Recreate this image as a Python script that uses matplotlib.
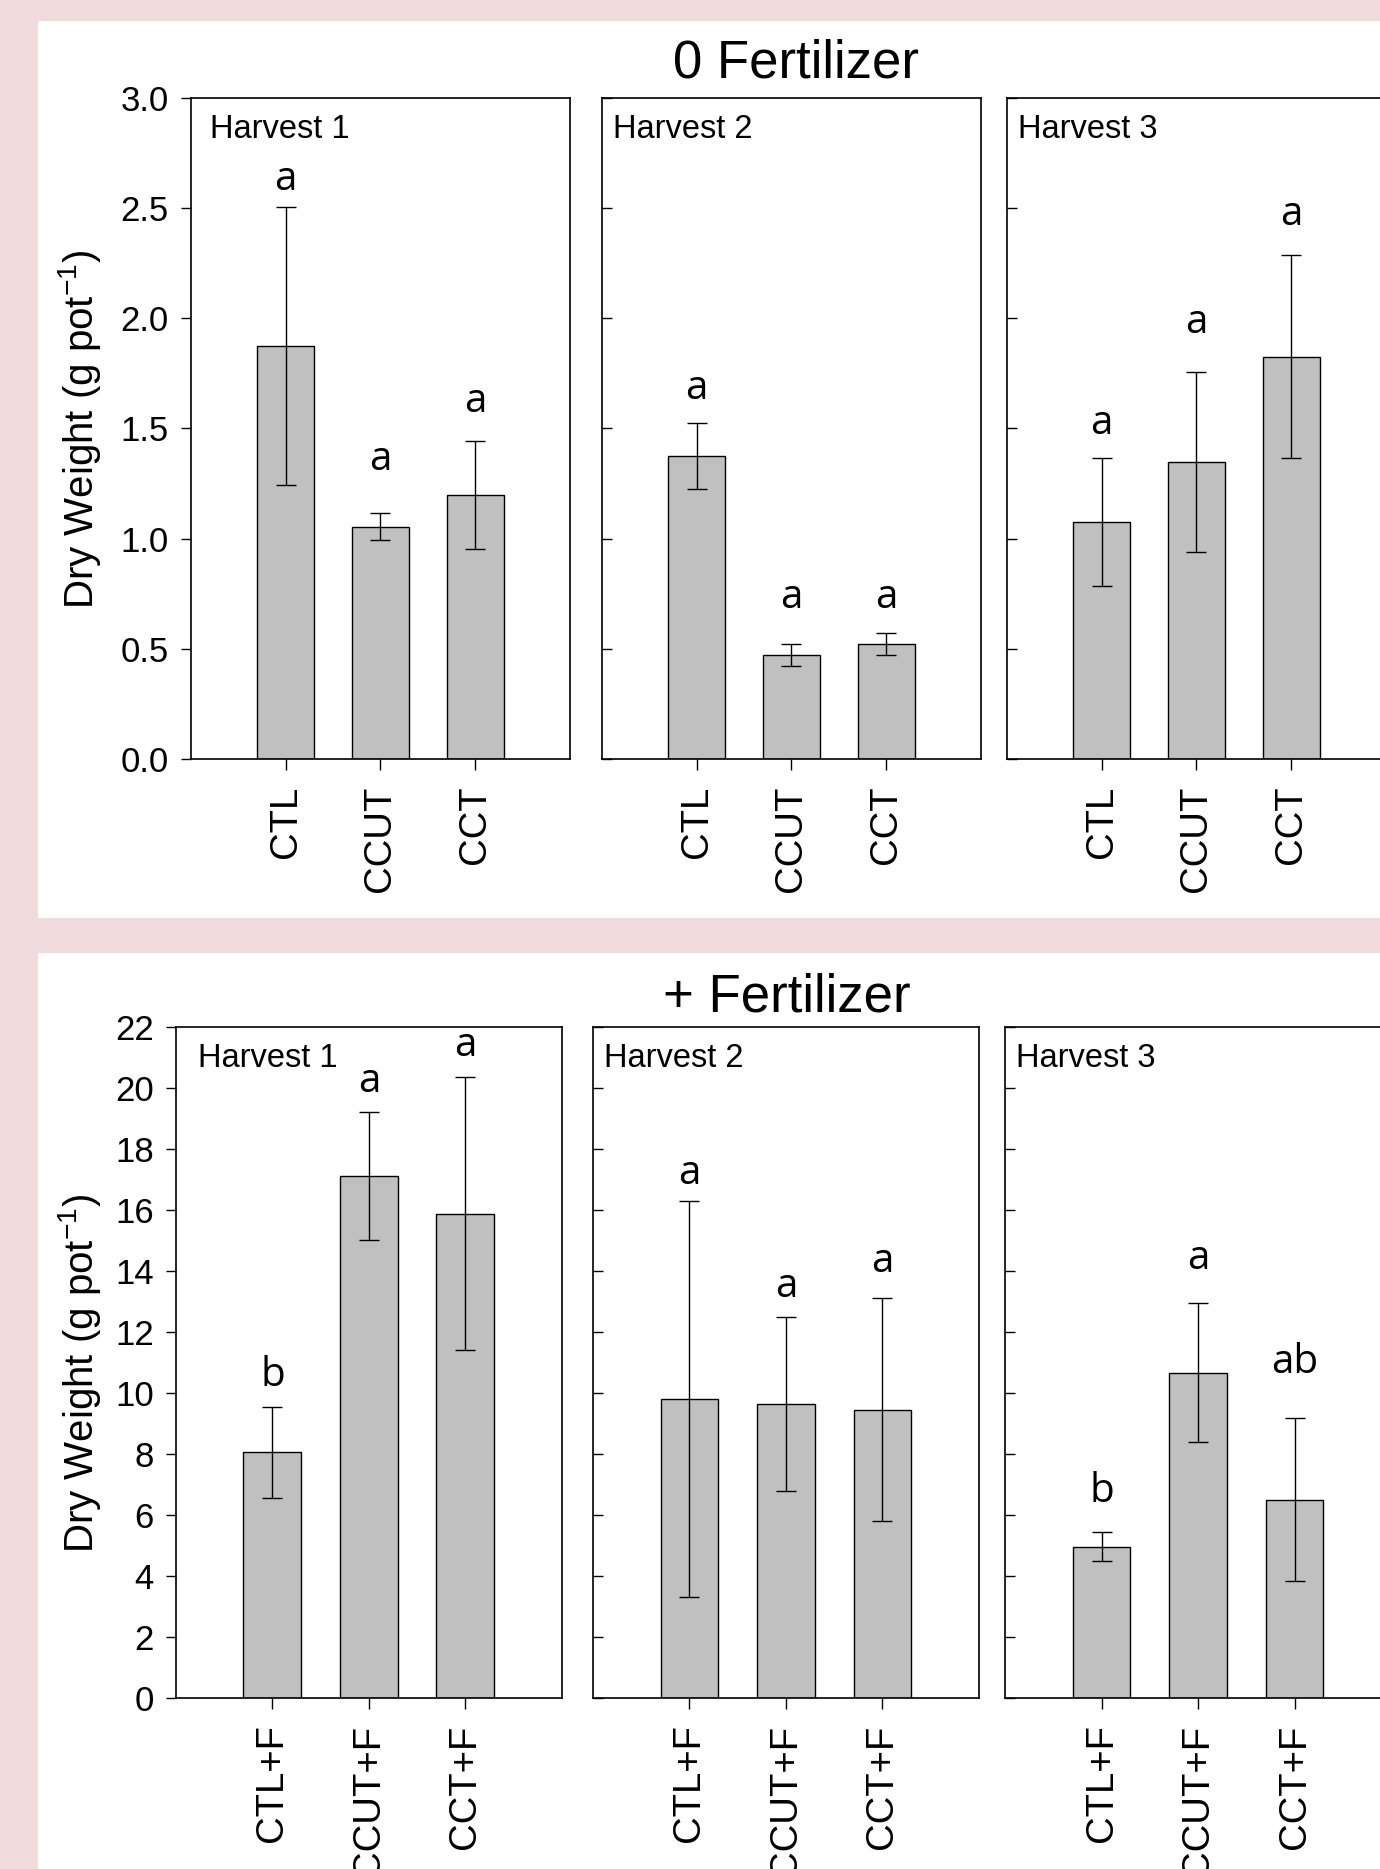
import matplotlib
matplotlib.use("Agg")
import matplotlib.pyplot as plt
from matplotlib.patches import Rectangle

# data
harvests = ["Harvest 1", "Harvest 2", "Harvest 3"]

cats_0 = ["CTL", "CCUT", "CCT"]
means_0 = [[1.875, 1.055, 1.20], [1.375, 0.472, 0.522], [1.075, 1.348, 1.825]]
errs_0 = [[0.63, 0.062, 0.245], [0.15, 0.048, 0.05], [0.29, 0.41, 0.46]]
letters_0 = [["a", "a", "a"], ["a", "a", "a"], ["a", "a", "a"]]
letter_y_0 = [[2.63, 1.36, 1.62], [1.68, 0.73, 0.73], [1.52, 1.98, 2.47]]

cats_f = ["CTL+F", "CCUT+F", "CCT+F"]
means_f = [[8.05, 17.12, 15.88], [9.8, 9.65, 9.45], [4.96, 10.66, 6.5]]
errs_f = [[1.5, 2.1, 4.48], [6.5, 2.85, 3.65], [0.47, 2.28, 2.68]]
letters_f = [["b", "a", "a"], ["a", "a", "a"], ["b", "a", "ab"]]
letter_y_f = [[10.55, 20.2, 21.4], [17.2, 13.5, 14.3], [6.76, 14.4, 11.0]]

yticks_0 = [0.0, 0.5, 1.0, 1.5, 2.0, 2.5, 3.0]
yticks_f = list(range(0, 23, 2))

plt.rcParams["font.family"] = "Liberation Sans"
plt.rcParams["mathtext.fontset"] = "custom"
plt.rcParams["mathtext.rm"] = "Liberation Sans"
plt.rcParams["mathtext.it"] = "Liberation Sans:italic"

pink = "#f0dcdc"
bar_grey = "#c0c0c0"

fig = plt.figure(figsize=(13.8, 18.69), dpi=100)
fig.patch.set_facecolor(pink)
fig.patches.append(Rectangle((38 / 1380, 1 - 918 / 1869), 1, (918 - 21) / 1869,
                             transform=fig.transFigure, facecolor="white", edgecolor="none", zorder=-1))
fig.patches.append(Rectangle((38 / 1380, 0), 1, 1 - 953 / 1869,
                             transform=fig.transFigure, facecolor="white", edgecolor="none", zorder=-1))


def draw_row(lefts, bottom, width, height, cats, means, errs, letters, letter_y, ymax, yticks, fmt, h1x):
    for i in range(3):
        ax = fig.add_axes([lefts[i], bottom, width, height])
        ax.set_facecolor("white")
        x = list(range(len(cats)))
        ax.bar(x, means[i], width=0.6, yerr=errs[i], color=bar_grey, edgecolor="black",
               linewidth=1.0, capsize=7, error_kw=dict(elinewidth=1.0, capthick=1.0), zorder=2)
        for j in x:
            ax.text(j, letter_y[i][j], letters[i][j], ha="center", va="center",
                    fontsize=29, family="Open Sans")
        ax.text(h1x if i == 0 else 0.028, 0.953, harvests[i], transform=ax.transAxes,
                ha="left", va="center", fontsize=23.5)
        ax.set_xlim(-1, 3)
        ax.set_ylim(0, ymax)
        ax.set_yticks(yticks)
        ax.set_xticks(x)
        ax.set_xticklabels(cats, rotation=90, fontsize=27.5)
        ax.tick_params(axis="x", direction="out", length=8, width=1.0, pad=11)
        if i == 0:
            ax.set_yticklabels([fmt.format(v) for v in yticks], fontsize=25)
            ax.tick_params(axis="y", direction="out", length=7, width=1.0, pad=9)
        else:
            ax.set_yticklabels([])
            ax.tick_params(axis="y", direction="in", length=7, width=1.0)
        for s in ax.spines.values():
            s.set_linewidth(1.2)


draw_row([0.1384, 0.4362, 0.7297], 0.5939, 0.2746, 0.3537,
         cats_0, means_0, errs_0, letters_0, letter_y_0, 3.0, yticks_0, "{:.1f}", 0.05)
draw_row([0.1275, 0.4297, 0.7283], 0.0915, 0.2797, 0.359,
         cats_f, means_f, errs_f, letters_f, letter_y_f, 22, yticks_f, "{:d}", 0.058)

fig.text(0.577, 0.966, "0 Fertilizer", ha="center", va="center", fontsize=38)
fig.text(0.570, 0.4665, "+ Fertilizer", ha="center", va="center", fontsize=38)

ylab = "Dry Weight (g pot$^{-1}$)"
fig.text(0.0575, 0.7705, ylab, rotation=90, ha="center", va="center", fontsize=29)
fig.text(0.0575, 0.2654, ylab, rotation=90, ha="center", va="center", fontsize=29)

fig.savefig("out.png", dpi=100, facecolor=fig.get_facecolor())
